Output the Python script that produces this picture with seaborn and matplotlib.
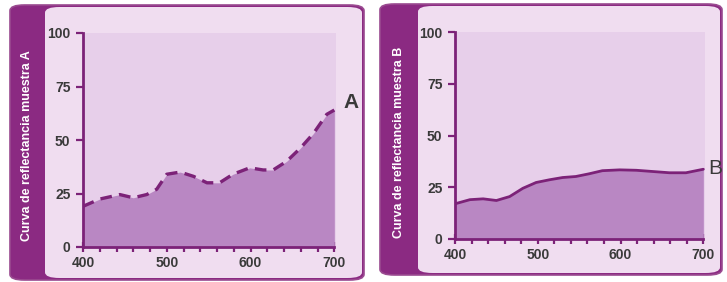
import matplotlib
matplotlib.use('Agg')
import matplotlib.pyplot as plt
from matplotlib.patches import FancyBboxPatch
from matplotlib.ticker import MultipleLocator
import seaborn as sns
import pandas as pd

# wavelength (nm) and reflectance (%)
wl_a = [400, 420, 444, 460, 476, 488, 500, 516, 532, 548, 563, 579, 599, 615, 627, 643, 659, 675, 691, 700]
refl_a = [19, 22.4, 24.5, 23, 24.5, 27, 34, 35, 33, 30, 30, 34, 37, 36, 36, 40, 46, 53, 62, 64]

wl_b = [400, 418, 434, 450, 466, 482, 498, 514, 530, 546, 562, 578, 599, 619, 639, 659, 679, 700]
refl_b = [17, 19, 19.4, 18.6, 20.5, 24.5, 27.3, 28.6, 29.7, 30.2, 31.5, 33, 33.4, 33.2, 32.6, 32, 32, 33.7]

ylabels = ['Curva de reflectancia muestra A', 'Curva de reflectancia muestra B']
tags = ['A', 'B']

dark = '#8b2a82'
light_bg = '#f0ddf0'
plot_bg = '#e7cfea'
fill_col = '#b987c3'
line_col = '#7c2278'
txt_col = '#3a3a3a'

sns.set_style('white')
plt.rcParams['font.family'] = ['Liberation Sans', 'DejaVu Sans']

W, H = 727, 282
fig = plt.figure(figsize=(W / 100, H / 100), dpi=100)
fig.patch.set_facecolor('white')


def px(x0, y0, x1, y1):
    # pixel box -> figure fraction [left, bottom, width, height]
    return [x0 / W, 1 - y1 / H, (x1 - x0) / W, (y1 - y0) / H]


panels = [
    dict(outer=(10, 5, 364, 280), strip=45, ax=(83, 33, 336, 247), lab_x=27, tag=(343, 102), bold_tag=True),
    dict(outer=(380, 4, 722, 275), strip=418, ax=(455, 32, 705, 239), lab_x=399, tag=(708, 168), bold_tag=False),
]

for i, p in enumerate(panels):
    x0, y0, x1, y1 = p['outer']
    l, b, w, h = px(x0, y0, x1, y1)
    fig.patches.append(FancyBboxPatch((l, b), w, h, boxstyle='round,pad=0,rounding_size=0.02',
                                      transform=fig.transFigure, facecolor=dark,
                                      edgecolor='#9a4a90', lw=1.2, zorder=-2))
    l2, b2, w2, h2 = px(p['strip'], y0 + 2, x1 - 2, y1 - 2)
    fig.patches.append(FancyBboxPatch((l2, b2), w2, h2, boxstyle='round,pad=0,rounding_size=0.02',
                                      transform=fig.transFigure, facecolor=light_bg,
                                      edgecolor='none', zorder=-1))
    fig.text(p['lab_x'] / W, 1 - ((y0 + y1) / 2 + 3) / H, ylabels[i], rotation=90,
             ha='center', va='center', color='white', fontsize=9, fontweight='bold')

    ax = fig.add_axes(px(*p['ax']))
    ax.set_zorder(2)
    ax.set_facecolor(plot_bg)
    if i == 0:
        wl, rf = wl_a, refl_a
    else:
        wl, rf = wl_b, refl_b
    df = pd.DataFrame({'wl': wl, 'refl': rf})
    ax.fill_between(df['wl'], df['refl'], 0, color=fill_col, lw=0)
    sns.lineplot(data=df, x='wl', y='refl', ax=ax, color=line_col,
                 lw=2.4 if i == 0 else 2.0,
                 linestyle=(0, (3.5, 2.2)) if i == 0 else '-')
    ax.set_xlim(400, 702)
    ax.set_ylim(0, 100)
    ax.set_xlabel('')
    ax.set_ylabel('')
    ax.set_xticks([400, 500, 600, 700])
    ax.xaxis.set_minor_locator(MultipleLocator(20))
    ax.set_yticks([0, 25, 50, 75, 100])
    for s in ['top', 'right']:
        ax.spines[s].set_visible(False)
    for s in ['left', 'bottom']:
        ax.spines[s].set_color(line_col)
        ax.spines[s].set_linewidth(2)
    ax.spines['bottom'].set_bounds(400, 700)
    ax.tick_params(axis='x', which='both', bottom=True, direction='inout', length=7, width=1.6,
                   color=line_col, labelsize=10, labelcolor=txt_col, pad=3)
    ax.tick_params(axis='y', left=True, direction='out', length=5, width=1.6,
                   color=line_col, labelsize=10, labelcolor=txt_col, pad=4)
    for t in ax.get_xticklabels() + ax.get_yticklabels():
        t.set_fontweight('bold')

    tx, ty = p['tag']
    fig.text(tx / W, 1 - ty / H, tags[i], ha='left', va='center', color=txt_col,
             fontsize=15, fontweight='bold' if p['bold_tag'] else 'normal')

fig.savefig('out.png', dpi=100, facecolor='white')
